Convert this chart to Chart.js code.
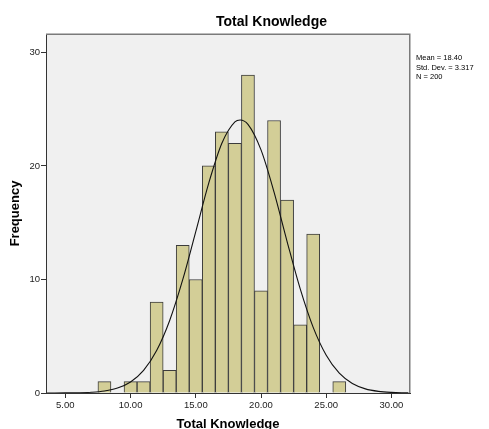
<!DOCTYPE html>
<html>
<head>
<meta charset="utf-8">
<script src="https://cdn.jsdelivr.net/npm/chart.js@4/dist/chart.umd.min.js"></script>
<style>
  html, body { margin: 0; padding: 0; background: #ffffff; }
  #wrap { width: 489px; height: 429px; }
</style>
</head>
<body>
<div id="wrap"><canvas id="c" width="489" height="429"></canvas></div>
<script>
// ---- data ----
const binCenters = [8, 10, 11, 12, 13, 14, 15, 16, 17, 18, 19, 20, 21, 22, 23, 24, 26];
const frequencies = [1, 1, 1, 8, 2, 13, 10, 20, 23, 22, 28, 9, 24, 17, 6, 14, 1];
const curveX = [3.6, 4, 5, 6, 7, 8, 9, 10, 11, 12, 13, 14, 15, 16, 17, 18, 18.4, 19, 20, 21, 22, 23, 24, 25, 26, 27, 28, 29, 30, 31, 31.3];
const curveY = [0.001, 0.002, 0.007, 0.022, 0.065, 0.176, 0.433, 0.97, 1.99, 3.74, 6.39, 9.98, 14.22, 18.51, 22.0, 23.88, 24.05, 23.66, 21.41, 17.69, 13.34, 9.19, 5.78, 3.32, 1.74, 0.835, 0.365, 0.146, 0.053, 0.018, 0.012];
const xTicks = [5, 10, 15, 20, 25, 30];
const yTicks = [0, 10, 20, 30];
const chartTitle = 'Total Knowledge';
const xTitle = 'Total Knowledge';
const yTitle = 'Frequency';
const statsLines = ['Mean = 18.40', 'Std. Dev. = 3.317', 'N = 200'];

const FONT = '"Liberation Sans", Arial, sans-serif';

const framePlugin = {
  id: 'frame',
  beforeDraw(chart) {
    const { ctx, chartArea: a } = chart;
    ctx.save();
    ctx.fillStyle = '#f0f0f0';
    ctx.fillRect(a.left, a.top, a.right - a.left, a.bottom - a.top);
    ctx.restore();
  },
  afterDraw(chart) {
    const { ctx, chartArea: a } = chart;
    ctx.save();
    ctx.strokeStyle = '#7a7a7a';
    ctx.lineWidth = 1.5;
    ctx.beginPath();
    ctx.moveTo(a.left, a.top + 0.25);
    ctx.lineTo(a.right - 0.25, a.top + 0.25);
    ctx.lineTo(a.right - 0.25, a.bottom);
    ctx.stroke();
    // title
    ctx.fillStyle = '#000';
    ctx.font = 'bold 14px ' + FONT;
    ctx.textAlign = 'center';
    ctx.textBaseline = 'middle';
    ctx.fillText(chartTitle, 271.5, 22);
    // stats
    ctx.font = '7.5px ' + FONT;
    ctx.textAlign = 'left';
    statsLines.forEach((s, i) => ctx.fillText(s, 416, 58 + i * 9.5));
    ctx.restore();
  }
};

new Chart(document.getElementById('c'), {
  data: {
    datasets: [
      {
        type: 'line',
        data: curveX.map((x, i) => ({ x: x, y: curveY[i] })),
        borderColor: '#111',
        borderWidth: 1.1,
        pointRadius: 0,
        cubicInterpolationMode: 'monotone',
        fill: false,
        order: 0
      },
      {
        type: 'bar',
        data: binCenters.map((x, i) => ({ x: x, y: frequencies[i] })),
        backgroundColor: '#d3ce97',
        borderColor: '#3c3c3c',
        borderWidth: 1,
        barPercentage: 1,
        categoryPercentage: 1,
        order: 1
      }
    ]
  },
  options: {
    responsive: false,
    animation: false,
    layout: { padding: { top: 34, right: 79, bottom: 0, left: 0 } },
    plugins: { legend: { display: false }, tooltip: { enabled: false }, title: { display: false } },
    scales: {
      x: {
        type: 'linear',
        offset: false,
        min: 3.52,
        max: 31.42,
        afterBuildTicks: (s) => { s.ticks = xTicks.map(v => ({ value: v })); },
        afterFit: (s) => { s.height = 36; },
        grid: { display: true, offset: false, drawOnChartArea: false, drawTicks: true, tickLength: 5, color: '#333' },
        border: { display: true, color: '#333', width: 1 },
        ticks: { color: '#222', font: { family: FONT, size: 9.5 }, padding: 1.5, maxRotation: 0, callback: (v) => Number(v).toFixed(2) },
        title: { display: true, text: xTitle, color: '#000', font: { family: FONT, size: 13, weight: 'bold', lineHeight: 0.7 }, padding: 0 }
      },
      y: {
        type: 'linear',
        min: 0,
        max: 31.62,
        afterBuildTicks: (s) => { s.ticks = yTicks.map(v => ({ value: v })); },
        afterFit: (s) => { s.width = 46; },
        grid: { display: true, drawOnChartArea: false, drawTicks: true, tickLength: 5, color: '#333' },
        border: { display: true, color: '#333', width: 1 },
        ticks: { color: '#222', font: { family: FONT, size: 9.5 }, padding: 1 },
        title: { display: true, text: yTitle, color: '#000', font: { family: FONT, size: 13, weight: 'bold', lineHeight: 1.2 }, padding: { top: 8, bottom: 0 } }
      }
    }
  },
  plugins: [framePlugin]
});
</script>
</body>
</html>
